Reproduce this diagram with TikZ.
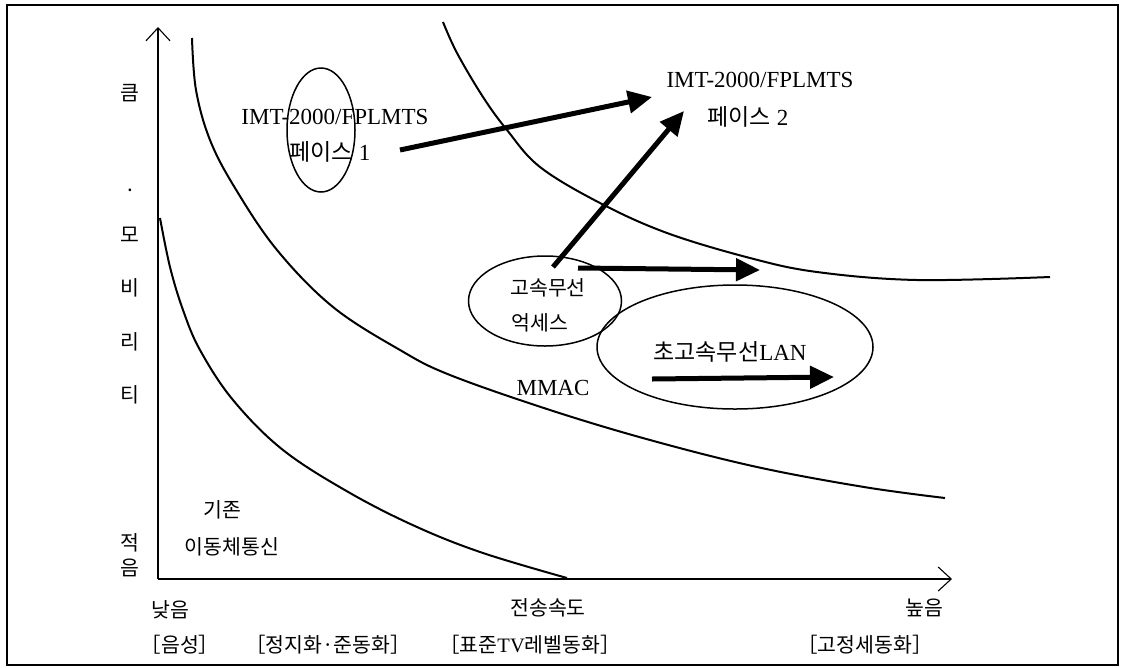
\documentclass[tikz,border=0pt]{standalone}
\usepackage{fontspec}
\setmainfont{Liberation Serif}
\newfontfamily\kr{Noto Sans CJK KR}
\usetikzlibrary{arrows.meta,shapes.geometric}
\tikzset{
  kor/.style={inner sep=0pt, font=\fontsize{20.5}{24}\selectfont\kr},
  lat/.style={inner sep=0pt, font=\fontsize{23}{27}\selectfont},
  axisline/.style={line width=1.1pt, -{Straight Barb[length=13pt,width=24pt,line width=1.1pt]}},
  curve/.style={line width=2pt},
  oval/.style={draw, ellipse, line width=1.5pt},
  bigarrow/.style={line width=5pt, -{Triangle[length=24pt,width=22pt]}},
}
\begin{document}
\begin{tikzpicture}[x=1pt,y=-1pt]
\useasboundingbox (0,0) rectangle (1131,667);
\draw[line width=1.2pt] (7,5) rectangle (1118,665);

% axes
\coordinate (O) at (158,579);
\coordinate (ytip) at (158,27);
\coordinate (xtip) at (952,579);
\draw[axisline] (O) -- (ytip);
\draw[axisline] (O) -- (xtip);

% curves
\draw[curve] plot[smooth, tension=0.6] coordinates {(160,218) (170,267) (183,310) (200,350) (233,400) (283,450) (350,493) (417,527) (483,553) (567,578)};
\draw[curve] plot[smooth, tension=0.6] coordinates {(192,38) (196,90) (210,140) (235,188) (277,250) (333,307) (400,350) (450,375) (550,410) (650,440) (757,467) (864,487) (945,498)};
\draw[curve] plot[smooth, tension=0.6] coordinates {(443,22) (457,53) (483,97) (507,130) (540,167) (600,203) (667,233) (750,258) (817,272) (917,280) (1050,277)};

% ellipses
\draw[line width=1.5pt] (321,130) ellipse [x radius=34, y radius=62];
\node[oval, minimum width=153pt, minimum height=90pt, inner sep=0pt] (hs) at (545,301) {};
\node[oval, minimum width=276pt, minimum height=124pt, inner sep=0pt] (lan) at (735,347) {};

% texts
\node[lat] (imt1) at (335,117) {IMT-2000/FPLMTS};
\node[lat] (ph1) at (330,152) {{\kr 페이스} 1};
\node[lat] (imt2) at (760,80) {IMT-2000/FPLMTS};
\node[lat] (ph2) at (748,117) {{\kr 페이스} 2};
\node[kor] (hs1) at (548,288) {고속무선};
\node[kor] (hs2) at (540,323) {억세스};
\node[lat] (lant) at (730,352) {{\kr 초고속무선}LAN};
\node[lat] (mmac) at (553,388) {MMAC};
\node[kor] (ex1) at (222,510) {기존};
\node[kor] (ex2) at (232,547) {이동체통신};

% y axis labels
\node[kor] (y1) at (130,93) {큼};
\node[kor] (y2) at (130,190) {.};
\node[kor] (y3) at (130,235) {모};
\node[kor] (y4) at (130,288) {비};
\node[kor] (y5) at (130,342) {리};
\node[kor] (y6) at (130,395) {티};
\node[kor] (y7) at (130,543) {적};
\node[kor] (y8) at (130,568) {음};

% x axis labels
\node[kor] (x1) at (170,610) {낮음};
\node[kor] (x2) at (548,608) {전송속도};
\node[kor] (x3) at (924,608) {높음};
\node[kor] (b1) at (180,645) {［음성］};
\node[kor] (b2) at (328,645) {［정지화·준동화］};
\node[kor] (b3) at (530,645) {［표준{\rmfamily TV}레벨동화］};
\node[kor] (b4) at (865,645) {［고정세동화］};

% arrows
\coordinate (a1s) at (400,150);
\coordinate (a1e) at (652,97);
\coordinate (a2s) at (553,267);
\coordinate (a2e) at (684,111);
\coordinate (a3s) at (578,268);
\coordinate (a3e) at (760,270);
\coordinate (a4s) at (652,379);
\coordinate (a4e) at (834,377);
\draw[bigarrow] (a1s) -- (a1e);
\draw[bigarrow] (a2s) -- (a2e);
\draw[bigarrow] (a3s) -- (a3e);
\draw[bigarrow] (a4s) -- (a4e);
\end{tikzpicture}
\end{document}
